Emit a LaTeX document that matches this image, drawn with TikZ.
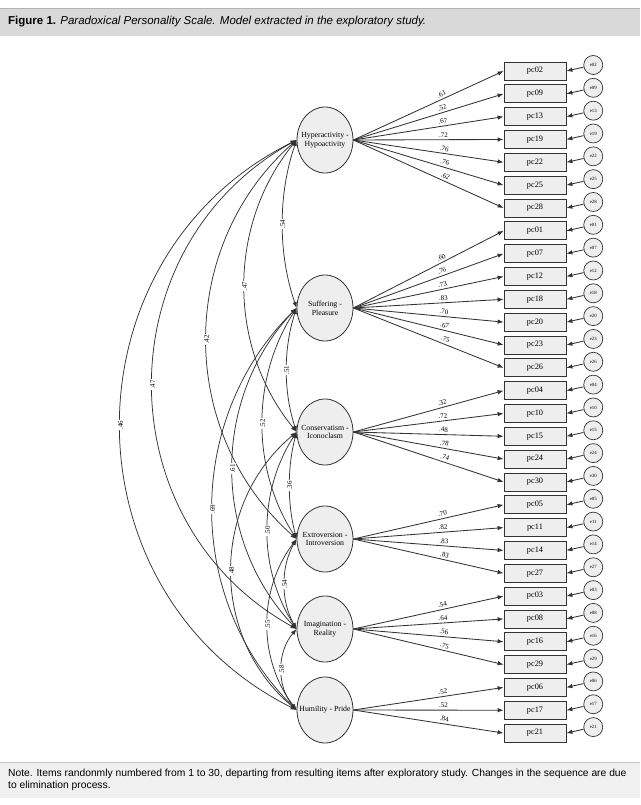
\documentclass[tikz,border=0pt]{standalone}
\usepackage{fontspec}
\setmainfont{Liberation Serif}
\newfontfamily\capfont{Liberation Sans}
\usepackage{xcolor}
\usetikzlibrary{arrows.meta, shapes.geometric, positioning}

\definecolor{linegray}{HTML}{333333}
\definecolor{boxgray}{HTML}{EEEEEE}
\definecolor{bandgray}{HTML}{D9D9D9}
\definecolor{bandline}{HTML}{B5B5B5}
\definecolor{notegray}{HTML}{F0F0F0}
\definecolor{noteline}{HTML}{C4C4C4}

\begin{document}
\begin{tikzpicture}[x=1pt, y=-1pt, >={Latex[length=6pt, width=4.5pt]}]
        % stijlen
        \tikzstyle{factor} = [ellipse, draw=linegray, fill=boxgray, line width=0.8pt, minimum width=56pt, minimum height=66pt, inner xsep=-6pt, inner ysep=0pt, align=center, font=\fontsize{7.8}{8.8}\selectfont]
        \tikzstyle{item} = [rectangle, draw=linegray, fill=boxgray, line width=0.8pt, minimum width=62pt, minimum height=18pt, font=\fontsize{8.3}{9}\selectfont]
        \tikzstyle{err} = [circle, draw=linegray, fill=boxgray, line width=0.7pt, minimum size=19pt, inner sep=0pt, font=\fontsize{4.8}{5}\selectfont]
        \tikzstyle{arrow} = [line width=0.85pt, draw=linegray, ->]
        \tikzstyle{covar} = [line width=0.75pt, draw=linegray, <->]
        \tikzstyle{load} = [pos=0.6, sloped, above, inner sep=2pt, font=\fontsize{7}{7.5}\selectfont]
        \tikzstyle{cov} = [pos=0.5, rotate=90, fill=white, inner sep=1pt, font=\fontsize{7}{7.5}\selectfont]

        \useasboundingbox (0,0) rectangle (640,805);

        % kop en noot
        \fill[bandgray] (0,8) rectangle (640,36);
        \draw[bandline, line width=1pt] (0,8.5) -- (640,8.5);
        \node (title) [anchor=west, inner sep=0pt, font=\capfont\fontsize{11.5}{13}\selectfont] at (8,22) {\textbf{Figure 1.} \textit{Paradoxical Personality Scale. Model extracted in the exploratory study.}};
        \fill[notegray] (0,762) rectangle (640,798);
        \draw[noteline, line width=1pt] (0,762.5) -- (640,762.5);
        \node (note) [anchor=north west, align=left, inner sep=0pt, font=\capfont\fontsize{10.3}{11.5}\selectfont] at (8,769) {Note. Items randonmly numbered from 1 to 30, departing from resulting items after exploratory study. Changes in the sequence are due\\to elimination process.};

        % factoren
        \node (hyp) [factor] at (325,140) {Hyperactivity -\\Hypoactivity};
        \node (suf) [factor] at (325,308) {Suffering -\\Pleasure};
        \node (con) [factor] at (325,432) {Conservatism -\\Iconoclasm};
        \node (ext) [factor] at (325,539) {Extroversion -\\Introversion};
        \node (ima) [factor] at (325,629) {Imagination -\\Reality};
        \node (hum) [factor] at (325,710) {Humility - Pride};

        % items en fouten
        \foreach \it [count=\i] in {02,09,13,19,22,25,28,01,07,12,18,20,23,26,04,10,15,24,30,05,11,14,27,03,08,16,29,06,17,21} {
            \node (pc\it) [item] at (535,{71+22.83*(\i-1)}) {pc\it};
            \node (e\it) [err, right=17pt of pc\it, yshift=6pt] {e\it};
            \draw [arrow] (e\it) -- (pc\it.east);
        }

        % ladingen
        \foreach \it/\ld in {02/.61, 09/.52, 13/.67, 19/.72, 22/.76, 25/.76, 28/.62}
            \draw [arrow] (hyp.east) -- node[load] {\ld} (pc\it.west);
        \foreach \it/\ld in {01/.60, 07/.76, 12/.73, 18/.83, 20/.70, 23/.67, 26/.75}
            \draw [arrow] (suf.east) -- node[load] {\ld} (pc\it.west);
        \foreach \it/\ld in {04/.32, 10/.72, 15/.48, 24/.78, 30/.74}
            \draw [arrow] (con.east) -- node[load] {\ld} (pc\it.west);
        \foreach \it/\ld in {05/.70, 11/.82, 14/.83, 27/.83}
            \draw [arrow] (ext.east) -- node[load] {\ld} (pc\it.west);
        \foreach \it/\ld in {03/.54, 08/.64, 16/.56, 29/.75}
            \draw [arrow] (ima.east) -- node[load] {\ld} (pc\it.west);
        \foreach \it/\ld in {06/.52, 17/.52, 21/.84}
            \draw [arrow] (hum.east) -- node[load] {\ld} (pc\it.west);

        % correlaties
        \draw [covar] (hyp.west) .. controls +(-18.7,54.6) and +(-18.7,-54.6) .. node[cov] {.54} (suf.west);
        \draw [covar] (hyp.west) .. controls +(-69.3,85) and +(-69.3,-85) .. node[cov] {.47} (con.west);
        \draw [covar] (hyp.west) .. controls +(-120,105.8) and +(-120,-105.8) .. node[cov] {.42} (ext.west);
        \draw [covar] (hyp.west) .. controls +(-192,106.4) and +(-192,-106.4) .. node[cov] {.47} (ima.west);
        \draw [covar] (hyp.west) .. controls +(-234.7,117) and +(-234.7,-117) .. node[cov] {.46} (hum.west);
        \draw [covar] (suf.west) .. controls +(-13.3,40.4) and +(-13.3,-40.4) .. node[cov] {.51} (con.west);
        \draw [covar] (suf.west) .. controls +(-45.3,70.4) and +(-45.3,-70.4) .. node[cov] {.52} (ext.west);
        \draw [covar] (suf.west) .. controls +(-85.3,89.9) and +(-85.3,-89.9) .. node[cov] {.61} (ima.west);
        \draw [covar] (suf.west) .. controls +(-112,110.4) and +(-112,-110.4) .. node[cov] {.69} (hum.west);
        \draw [covar] (con.west) .. controls +(-9.3,35) and +(-9.3,-35) .. node[cov] {.36} (ext.west);
        \draw [covar] (con.west) .. controls +(-38.7,60) and +(-38.7,-60) .. node[cov] {.50} (ima.west);
        \draw [covar] (con.west) .. controls +(-86.7,72.3) and +(-86.7,-72.3) .. node[cov] {.48} (hum.west);
        \draw [covar] (ext.west) .. controls +(-16,27.8) and +(-16,-27.8) .. node[cov] {.54} (ima.west);
        \draw [covar] (ext.west) .. controls +(-38.7,50.7) and +(-38.7,-50.7) .. node[cov] {.55} (hum.west);
        \draw [covar] (ima.west) .. controls +(-20,23.4) and +(-20,-23.4) .. node[cov] {.58} (hum.west);
\end{tikzpicture}
\end{document}
